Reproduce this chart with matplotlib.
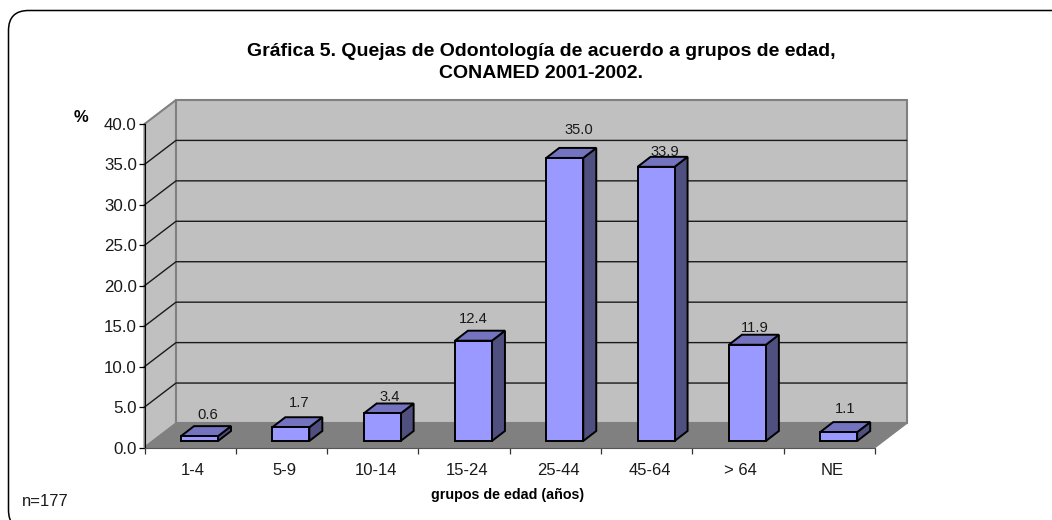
import matplotlib
matplotlib.use("Agg")
import matplotlib.pyplot as plt
from matplotlib.patches import Polygon, FancyBboxPatch

categories = ['1-4', '5-9', '10-14', '15-24', '25-44', '45-64', '> 64', 'NE']
values = [0.6, 1.7, 3.4, 12.4, 35.0, 33.9, 11.9, 1.1]
y_ticks = [0, 5, 10, 15, 20, 25, 30, 35, 40]

W, H = 1052, 520
px_x = 91.3  # pixels per category
px_y = 8.08  # pixels per percent
# depth of the fake 3d box, in data units
depth_x = 31.5 / px_x
depth_y = 24 / px_y
bar_width = 37 / px_x
bar_lift = 6.5 / px_y
bar_shift = 36.5 / px_x
bar_dx = 13 / px_x
bar_dy = 10 / px_y
# the labels were placed by hand in the original, offsets in pixels from the bar top
label_dx = [8, 8.5, 8, 0, 14, 9, 7, 6]
label_dy = [13, 16, 8, 13, 19, 6, 8, 15]

plt.rcParams['font.family'] = ['Liberation Sans', 'DejaVu Sans']

fig = plt.figure(figsize=(W / 100, H / 100), dpi=100)

# rounded frame, runs off the right and bottom of the picture
frame = FancyBboxPatch((8.5, -10), 1100, 519.5, boxstyle="round,pad=0,rounding_size=20",
                       transform=None, fc='white', ec='black', lw=1.1, zorder=-1)
fig.add_artist(frame)

ax = fig.add_axes([144.5 / W, 1 - 447.5 / H, (875 - 144.5) / W, (447.5 - 124) / H])
ax.set_xlim(0, 8)
ax.set_ylim(0, 40)
ax.patch.set_visible(False)
for s in ['top', 'right']:
    ax.spines[s].set_visible(False)
ax.spines['left'].set_color('black')
ax.spines['bottom'].set_color('#555555')
ax.spines['left'].set_zorder(6)
ax.spines['bottom'].set_zorder(6)

# walls and floor
ax.add_patch(Polygon([(0, 0), (depth_x, depth_y), (depth_x, 40 + depth_y), (0, 40)],
                     fc='#c0c0c0', ec='#808080', lw=1.5, clip_on=False, zorder=1))
ax.add_patch(Polygon([(depth_x, depth_y), (8 + depth_x, depth_y), (8 + depth_x, 40 + depth_y), (depth_x, 40 + depth_y)],
                     fc='#c0c0c0', ec='#808080', lw=1.5, clip_on=False, zorder=1))
ax.add_patch(Polygon([(0, 0), (8, 0), (8 + depth_x, depth_y), (depth_x, depth_y)],
                     fc='#808080', ec='#808080', lw=1, clip_on=False, zorder=2))

# gridlines on left and back wall
for t in y_ticks[1:-1]:
    ax.plot([0, depth_x, 8 + depth_x], [t, t + depth_y, t + depth_y], color='#1a1a1a', lw=1,
            clip_on=False, zorder=3, solid_joinstyle='miter')

# bars
for i, v in enumerate(values):
    x0 = i + bar_shift
    x1 = x0 + bar_width
    y0 = bar_lift
    y1 = v + bar_lift
    ax.add_patch(Polygon([(x1, y0), (x1 + bar_dx, y0 + bar_dy), (x1 + bar_dx, y1 + bar_dy), (x1, y1)],
                         fc='#4f4f80', ec='black', lw=1.4, clip_on=False, zorder=4, joinstyle='miter'))
    ax.add_patch(Polygon([(x0, y1), (x1, y1), (x1 + bar_dx, y1 + bar_dy), (x0 + bar_dx, y1 + bar_dy)],
                         fc='#7373bf', ec='black', lw=1.4, clip_on=False, zorder=4, joinstyle='miter'))
    ax.add_patch(Polygon([(x0, y0), (x1, y0), (x1, y1), (x0, y1)],
                         fc='#9999ff', ec='black', lw=1.4, clip_on=False, zorder=5, joinstyle='miter'))
    ax.text((x0 + x1) / 2 + label_dx[i] / px_x, y1 + bar_dy + label_dy[i] / px_y, '%.1f' % v,
            ha='center', va='center_baseline', fontsize=10.6, color='#1a1a1a', zorder=7, clip_on=False)

ax.set_xticks(range(9))
ax.set_xticklabels([])
ax.set_xticks([i + 0.53 for i in range(8)], categories, minor=True)
ax.tick_params(axis='x', which='major', length=4, width=0.9, color='#333333')
ax.tick_params(axis='x', which='minor', length=0, pad=11, labelsize=12, labelcolor='#1a1a1a')
ax.set_yticks(y_ticks, ['%.1f' % t for t in y_ticks])
ax.tick_params(axis='y', length=4.3, width=0.9, pad=1.2, labelsize=12.2, labelcolor='#1a1a1a')
for lbl in ax.get_yticklabels():
    lbl.set_va('center_baseline')

fig.text(541 / W, 1 - 52 / H, 'Gráfica 5. Quejas de Odontología de acuerdo a grupos de edad,',
         ha='center', va='center', fontsize=14, fontweight='bold')
fig.text(541 / W, 1 - 73 / H, 'CONAMED 2001-2002.', ha='center', va='center', fontsize=14, fontweight='bold')
fig.text(81 / W, 1 - 117 / H, '%', ha='center', va='center', fontsize=12, fontweight='bold')
fig.text(508 / W, 1 - 495 / H, 'grupos de edad (años)', ha='center', va='center', fontsize=10.3, fontweight='bold')
fig.text(22 / W, 1 - 501 / H, 'n=177', ha='left', va='center', fontsize=12, color='#1a1a1a')

fig.savefig('out.png', dpi=100)
